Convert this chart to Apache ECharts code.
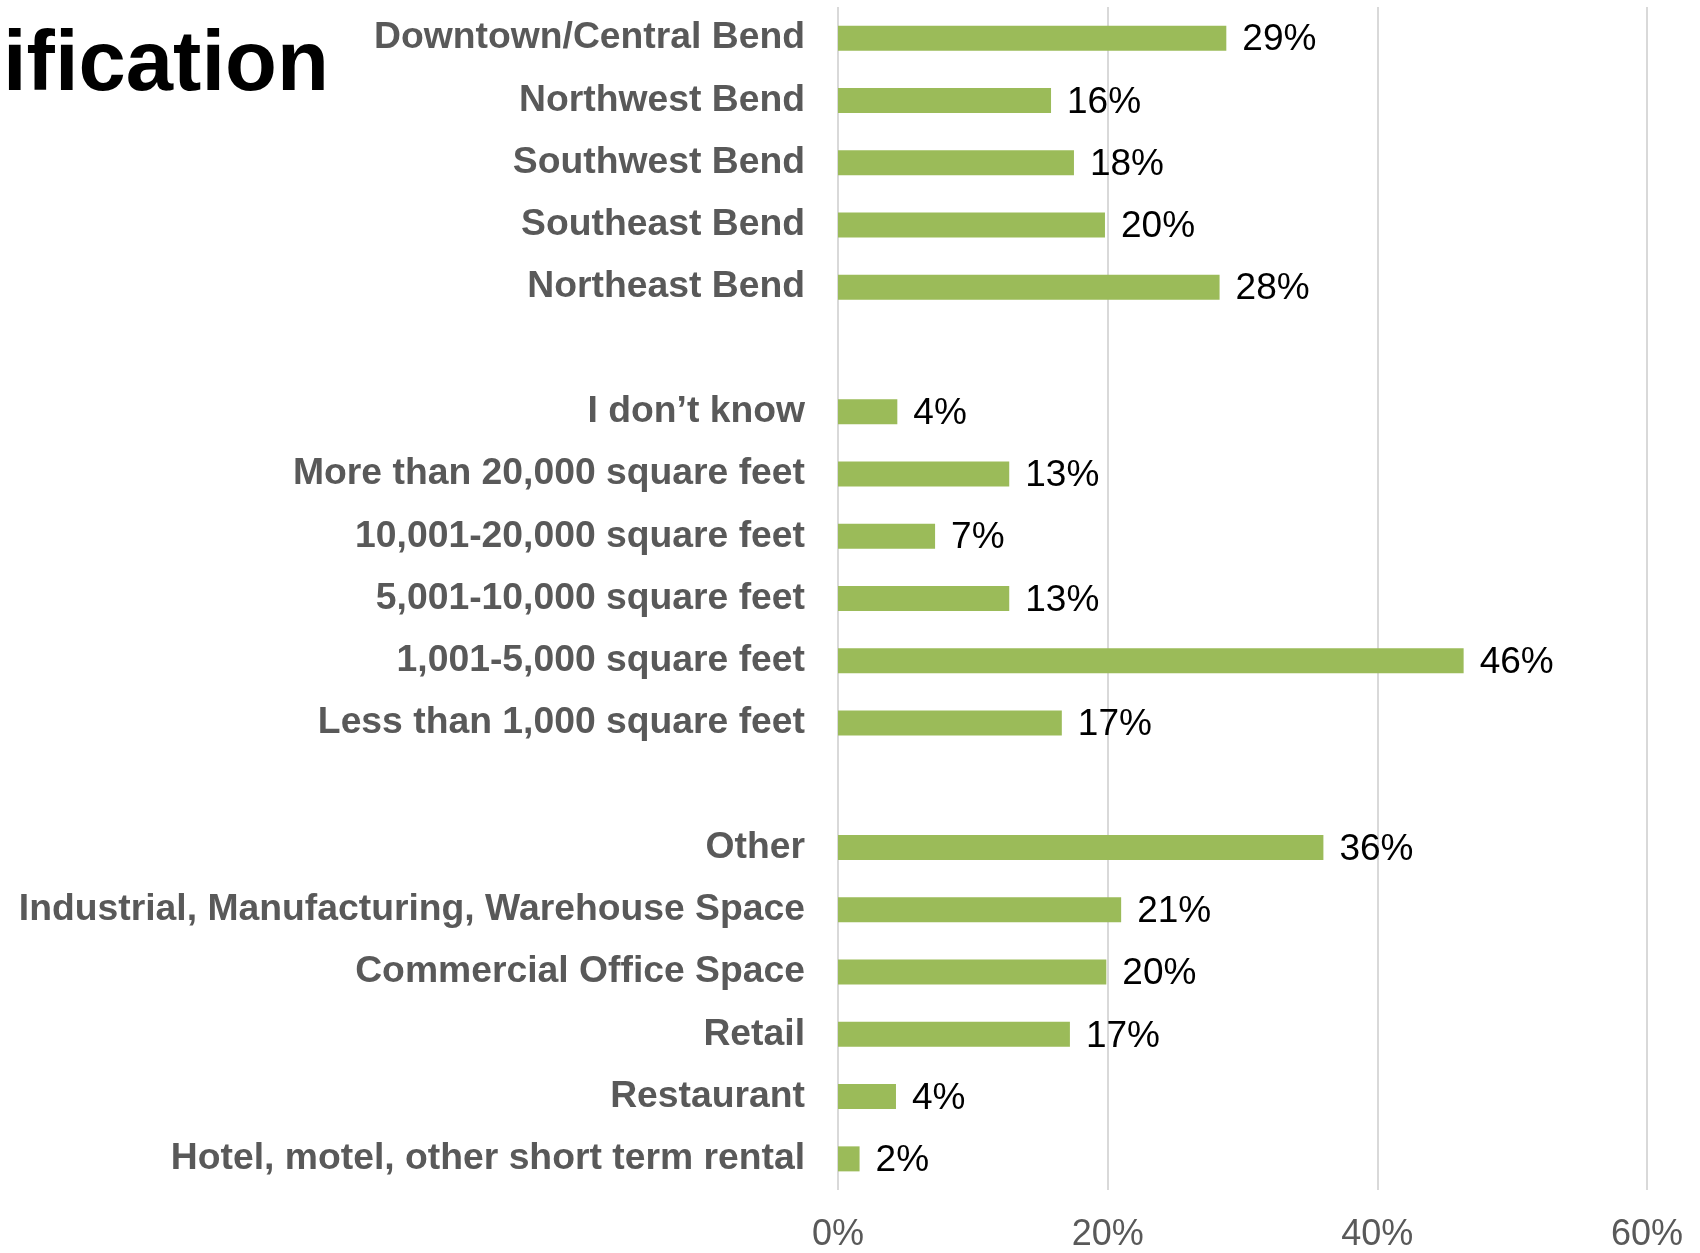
<!DOCTYPE html>
<html>
<head>
<meta charset="utf-8">
<script src="https://cdn.jsdelivr.net/npm/echarts@6/dist/echarts.min.js"></script>
<style>html,body{margin:0;padding:0;background:#fff;}#c{width:1700px;height:1253px;}</style>
</head>
<body>
<div id="c"></div>
<script>
const titleText = 'ification';
const categories = [
  'Downtown/Central Bend', 'Northwest Bend', 'Southwest Bend', 'Southeast Bend', 'Northeast Bend',
  ' ',
  'I don\u2019t know', 'More than 20,000 square feet', '10,001-20,000 square feet', '5,001-10,000 square feet', '1,001-5,000 square feet', 'Less than 1,000 square feet',
  '  ',
  'Other', 'Industrial, Manufacturing, Warehouse Space', 'Commercial Office Space', 'Retail', 'Restaurant', 'Hotel, motel, other short term rental'
];
const values = [
  28.8, 15.8, 17.5, 19.8, 28.3,
  null,
  4.4, 12.7, 7.2, 12.7, 46.4, 16.6,
  null,
  36.0, 21.0, 19.9, 17.2, 4.3, 1.6
];
const xTicks = { min: 0, max: 60, interval: 20 };

const FONT = '"Liberation Sans", Arial, sans-serif';
const chart = echarts.init(document.getElementById('c'), null, { renderer: 'canvas' });
chart.setOption({
  backgroundColor: '#ffffff',
  animation: false,
  title: {
    text: titleText,
    left: -2,
    top: 19,
    textStyle: { fontFamily: FONT, fontSize: 85, fontWeight: 'bold', color: '#000000', lineHeight: 85 }
  },
  grid: { left: 838, right: 53, top: 7, bottom: 50, containLabel: false },
  xAxis: {
    type: 'value',
    min: xTicks.min, max: xTicks.max, interval: xTicks.interval,
    axisLine: { show: false },
    axisTick: { show: false },
    splitLine: { show: true, lineStyle: { color: '#d9d9d9', width: 2 } },
    axisLabel: { formatter: '{value}%', fontFamily: FONT, fontSize: 36, color: '#595959', margin: 27 }
  },
  yAxis: {
    type: 'category',
    inverse: true,
    data: categories,
    axisLine: { show: false },
    axisTick: { show: false },
    axisLabel: { fontFamily: FONT, fontSize: 37.3, fontWeight: 'bold', color: '#595959', margin: 33, padding: [8, 0, 0, 0] }
  },
  series: [{
    type: 'bar',
    data: values,
    barWidth: 25,
    itemStyle: { color: '#9BBB59' },
    label: {
      show: true,
      position: 'right',
      distance: 16,
      fontFamily: FONT,
      fontSize: 37,
      color: '#000000',
      offset: [0, 2],
      formatter: p => (p.value == null ? '' : Math.round(p.value) + '%')
    }
  }]
});
</script>
</body>
</html>
